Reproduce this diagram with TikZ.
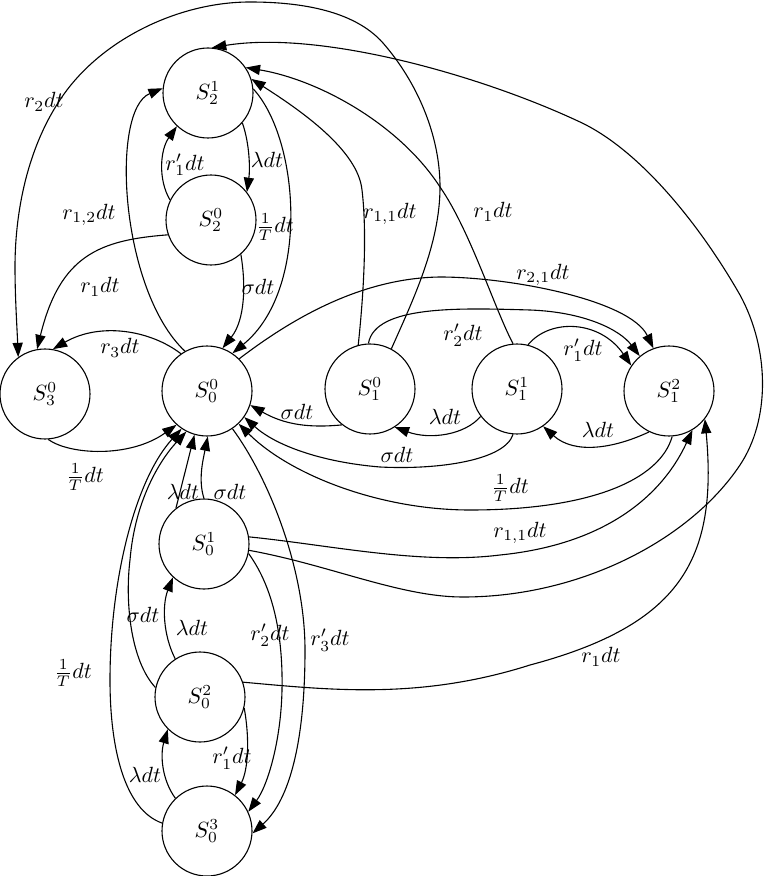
\documentclass[tikz,border=0pt]{standalone}
\usetikzlibrary{arrows.meta}
\tikzset{
  st/.style={circle, draw, line width=0.5pt, minimum size=40.9pt, inner sep=0pt},
  ed/.style={-{Triangle[length=6.5pt,width=4.6pt]}, line width=0.5pt},
  lb/.style={inner sep=0pt}
}
\begin{document}
\begin{tikzpicture}[x=0.4545pt, y=-0.4545pt]
\useasboundingbox (0,0) rectangle (766,876);
% states
\node[st] (s21) at (208,93) {$S_2^1$};
\node[st] (s20) at (211,220) {$S_2^0$};
\node[st] (s30) at (45,394) {$S_3^0$};
\node[st] (s00) at (207,391) {$S_0^0$};
\node[st] (s10) at (370,389) {$S_1^0$};
\node[st] (s11) at (517,389) {$S_1^1$};
\node[st] (s12) at (669,391) {$S_1^2$};
\node[st] (s01) at (204,544) {$S_0^1$};
\node[st] (s02) at (200,697) {$S_0^2$};
\node[st] (s03) at (207,831) {$S_0^3$};
% edges around S2
\draw[ed] (s20.154) .. controls (158,180) and (160,150) .. (s21.227);
\draw[ed] (s21.-41) .. controls (250,145) and (250,170) .. (s20.38);
\draw[ed] (s20.-49) .. controls (246,285) and (245,320) .. (s00.70);
\draw[ed] (s21.5) .. controls (300,140) and (310,290) .. (s00.56);
\draw[ed] (s00.119) .. controls (120,290) and (110,110) .. (s21.174);
\draw[ed] (s20.199) .. controls (100,240) and (60,255) .. (s30.100);
% big r2 curve
\draw[ed] (s10.62) .. controls (413,300) and (440,244) .. (440,187)
  .. controls (440,135) and (417,82) .. (383,43)
  .. controls (353,9) and (296,2) .. (250,2)
  .. controls (182,2) and (108,36) .. (67,90)
  .. controls (30,139) and (15,206) .. (15,267)
  .. controls (15,297) and (17,327) .. (s30.126);
\draw[ed] (s00.125) .. controls (150,330) and (100,322) .. (s30.80);
\draw[ed] (s30.-86) .. controls (70,455) and (130,458) .. (s00.228);
% S0 column
\draw[ed] (s01.90) .. controls (198,480) and (203,460) .. (s00.271);
\draw[ed] (s01.128) -- (s00.254);
\draw[ed] (s02.168) .. controls (130,660) and (125,600) .. (130,560)
  .. controls (135,500) and (160,460) .. (s00.243);
\draw[ed] (s03.170) .. controls (125,810) and (110,750) .. (110,680)
  .. controls (110,580) and (135,480) .. (s00.236);
\draw[ed] (s02.123) .. controls (163,635) and (162,605) .. (s01.227);
\draw[ed] (s03.134) .. controls (162,780) and (160,755) .. (s02.225);
\draw[ed] (s02.-14) .. controls (250,740) and (248,770) .. (s03.52);
\draw[ed] (s01.-12) .. controls (275,590) and (283,640) .. (282,690)
  .. controls (281,740) and (268,785) .. (s03.25);
\draw[ed] (s00.-56) .. controls (270,480) and (305,570) .. (305,650)
  .. controls (305,740) and (290,800) .. (s03.-3);
% long curves to the right
\draw[ed] (s01.9) .. controls (330,545) and (420,565) .. (500,555)
  .. controls (600,545) and (660,500) .. (s12.-59);
\draw[ed] (s01.-8) .. controls (330,565) and (400,597) .. (463,597)
  .. controls (580,597) and (690,540) .. (740,465)
  .. controls (770,420) and (770,350) .. (740,295)
  .. controls (700,225) and (640,150) .. (580,122)
  .. controls (480,75) and (320,30) .. (s21.85);
\draw[ed] (s02.19) .. controls (330,690) and (420,700) .. (530,665)
  .. controls (680,625) and (718,560) .. (s12.-38);
\draw[ed] (s12.-86) .. controls (660,480) and (590,510) .. (470,510)
  .. controls (380,510) and (290,475) .. (s00.-46);
\draw[ed] (s11.-95) .. controls (505,460) and (440,470) .. (380,467)
  .. controls (320,462) and (275,445) .. (s00.-35);
\draw[ed] (s10.232) .. controls (310,428) and (285,425) .. (s00.-18);
\draw[ed] (s11.217) .. controls (465,435) and (430,440) .. (s10.-57);
\draw[ed] (s12.244) .. controls (615,448) and (575,455) .. (s11.-55);
\draw[ed] (s11.76) .. controls (550,318) and (600,320) .. (s12.146);
\draw[ed] (s10.92) .. controls (375,305) and (460,308) .. (530,310)
  .. controls (585,312) and (620,330) .. (s12.130);
\draw[ed] (s00.45) .. controls (290,320) and (360,278) .. (440,277)
  .. controls (510,277) and (630,300) .. (s12.110);
\draw[ed] (s10.105) .. controls (362,310) and (368,240) .. (362,190)
  .. controls (358,150) and (300,110) .. (s21.18);
\draw[ed] (s11.95) .. controls (495,310) and (470,230) .. (440,187)
  .. controls (400,125) and (320,80) .. (s21.34);
% labels
\node[lb] (l1) at (44,102) {$r_2dt$};
\node[lb] (l2) at (89,215) {$r_{1,2}dt$};
\node[lb] (l3) at (100,287) {$r_1dt$};
\node[lb] (l4) at (120,348) {$r_3dt$};
\node[lb] (l5) at (85,477) {$\frac{1}{T}dt$};
\node[lb] (l6) at (183,492) {$\lambda dt$};
\node[lb] (l7) at (230,492) {$\sigma dt$};
\node[lb] (l8) at (143,615) {$\sigma dt$};
\node[lb] (l9) at (192,628) {$\lambda dt$};
\node[lb] (l10) at (73,673) {$\frac{1}{T}dt$};
\node[lb] (l11) at (145,775) {$\lambda dt$};
\node[lb] (l12) at (232,758) {$r'_1dt$};
\node[lb] (l13) at (270,635) {$r'_2dt$};
\node[lb] (l14) at (330,640) {$r'_3dt$};
\node[lb] (l15) at (601,657) {$r_1dt$};
\node[lb] (l16) at (520,533) {$r_{1,1}dt$};
\node[lb] (l17) at (510,488) {$\frac{1}{T}dt$};
\node[lb] (l18) at (397,455) {$\sigma dt$};
\node[lb] (l19) at (445,417) {$\lambda dt$};
\node[lb] (l20) at (297,412) {$\sigma dt$};
\node[lb] (l21) at (598,430) {$\lambda dt$};
\node[lb] (l22) at (583,350) {$r'_1dt$};
\node[lb] (l23) at (463,335) {$r'_2dt$};
\node[lb] (l24) at (543,275) {$r_{2,1}dt$};
\node[lb] (l25) at (493,212) {$r_1dt$};
\node[lb] (l26) at (390,214) {$r_{1,1}dt$};
\node[lb] (l27) at (275,227) {$\frac{1}{T}dt$};
\node[lb] (l28) at (267,160) {$\lambda dt$};
\node[lb] (l29) at (185,165) {$r'_1dt$};
\node[lb] (l30) at (258,287) {$\sigma dt$};
\end{tikzpicture}
\end{document}
